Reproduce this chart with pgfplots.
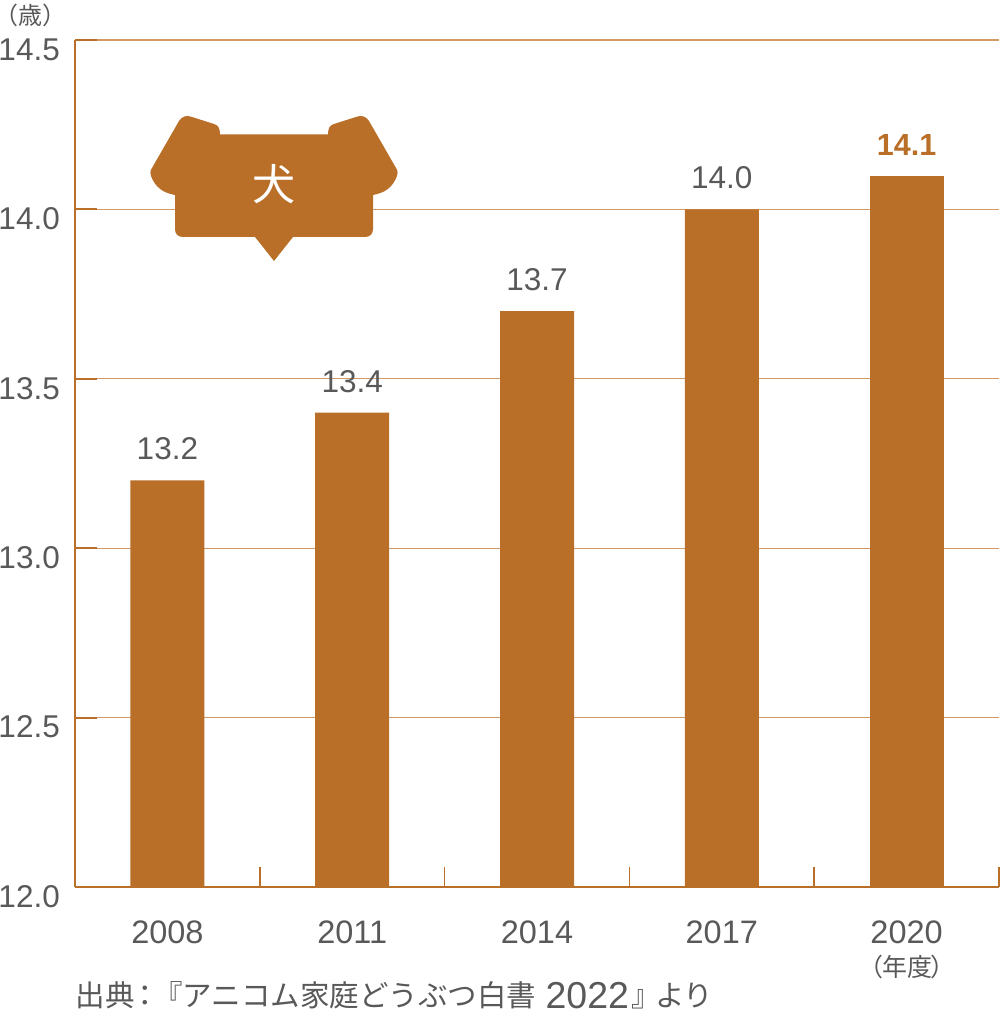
\documentclass[border=0pt]{standalone}
\usepackage{fontspec}
\usepackage{pgfplots}
\pgfplotsset{compat=1.18}
\setmainfont{Liberation Sans}
\newfontfamily\cjk{Noto Sans CJK JP}
\definecolor{bar}{HTML}{BA6F28}
\definecolor{gridc}{HTML}{D39A66}
\definecolor{txt}{HTML}{595959}
\pgfplotstableread{
x y
0 13.2
1 13.4
2 13.7
3 14.0
}\maindata
\pgfplotstableread{
x y
4 14.1
}\lastdata
\begin{document}
\begin{tikzpicture}[x=1pt,y=1pt]
\path[use as bounding box] (0,0) rectangle (1000,1011);
\begin{axis}[
  at={(75pt,124pt)}, anchor=south west,
  scale only axis, width=924pt, height=847pt,
  xmin=-0.5, xmax=4.5, ymin=12, ymax=14.5,
  axis lines=left, axis line style={bar, line width=2.2pt, -},
  xtick={0,1,2,3,4},
  xticklabels={2008,2011,2014,2017,2020},
  major x tick style={draw=none},
  minor xtick={0.5,1.5,2.5,3.5,4.5},
  minor tick length=20pt,
  minor x tick style={bar, line width=1.6pt},
  x tick label style={font=\fontsize{32.5}{33}\selectfont, text=txt, anchor=center, yshift=-45pt, inner sep=0pt},
  ytick={12,12.5,13,13.5,14,14.5},
  yticklabels={12.0,12.5,13.0,13.5,14.0,14.5},
  major y tick style={bar, line width=2pt},
  major tick length=22pt, tick align=inside,
  y tick label style={font=\fontsize{31.5}{32}\selectfont, text=txt, anchor=east, xshift=-15pt, yshift=-9.5pt, inner sep=0pt},
  ymajorgrids, grid style={gridc, line width=1.2pt},
  axis on top=false,
  clip=false,
  /pgf/number format/assume math mode=true,
]
\addplot[ybar, bar width=74pt, bar shift=0pt, fill=bar, draw=none,
  nodes near coords, point meta=explicit symbolic,
  nodes near coords style={font=\fontsize{31.5}{32}\selectfont, text=txt, anchor=south, yshift=20pt, inner sep=0pt}]
  table[x=x,y=y,meta=y] {\maindata};
\addplot[ybar, bar width=74pt, bar shift=0pt, fill=bar, draw=none,
  nodes near coords, point meta=explicit symbolic,
  nodes near coords style={font=\fontsize{30.5}{32}\selectfont\bfseries, text=bar, anchor=south, yshift=20pt, inner sep=0pt}]
  table[x=x,y=y,meta=y] {\lastdata};
\end{axis}
\begin{scope}[x=1pt,y=-1pt,yshift=1011pt]
\fill[bar] (220,134.5) -- (328,134.5) .. controls (328,128) and (330,125) .. (334,124) -- (356,117) .. controls (361,115) and (366,116) .. (369,121) -- (396,168) .. controls (398,171) and (398,174) .. (397,176) .. controls (393,187) and (385,193) .. (373,195) -- (373,229) .. controls (373,234) and (370,237) .. (365,237) -- (183,237) .. controls (178,237) and (175,234) .. (175,229) -- (175,195) .. controls (163,193) and (155,187) .. (151,176) .. controls (150,174) and (150,171) .. (152,168) -- (179,121) .. controls (182,116) and (187,115) .. (192,117) -- (214,124) .. controls (218,125) and (220,128) .. (220,134.5) -- cycle;
\fill[bar] (255,237) -- (293,237) -- (274,261) -- cycle;
\node[text=white, inner sep=0pt, font=\cjk\fontsize{43}{43}\selectfont] at (274,184) {犬};
\node[text=txt, inner sep=0pt, anchor=west, font=\cjk\fontsize{24}{24}\selectfont] at (5,15.5) {\hspace*{-10.5pt}（歳）\hspace*{-10.5pt}};
\node[text=txt, inner sep=0pt, anchor=center, font=\cjk\fontsize{25}{25}\selectfont] at (907,967) {（\hspace{-1.5pt}年度\hspace{-1.5pt}）};
\node[text=txt, inner sep=0pt, anchor=base west, font=\cjk\fontsize{29.5}{30}\selectfont] at (75.5,1006.5) {出典\hspace{-4pt}：\hspace{-7pt}『アニコム家庭どうぶつ白書\hspace{9.5pt}\raisebox{-2pt}{\rmfamily\fontsize{37.5}{38}\selectfont 2022}\hspace{2pt}』\hspace{-5.5pt}より};
\end{scope}
\end{tikzpicture}
\end{document}
